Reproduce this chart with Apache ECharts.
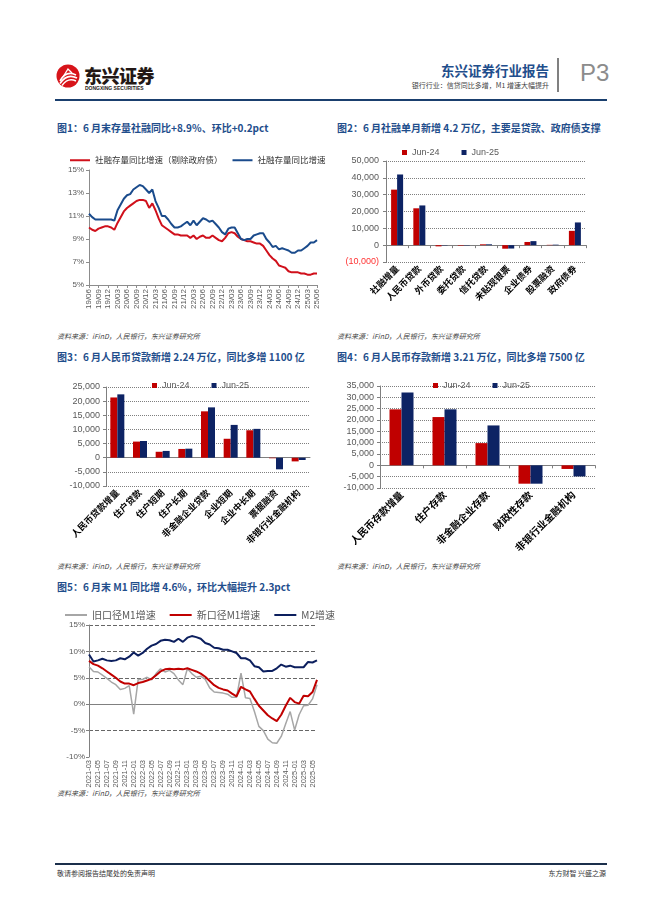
<!DOCTYPE html>
<html><head><meta charset="utf-8">
<script src="https://cdn.jsdelivr.net/npm/echarts@6/dist/echarts.min.js"></script>
<style>
html,body{margin:0;padding:0;background:#fff;}
#page{position:relative;width:662px;height:898px;overflow:hidden;font-family:"Noto Sans CJK SC","Liberation Sans",sans-serif;}
.abs{position:absolute;white-space:nowrap;}
.title{font-size:10px;font-weight:bold;color:#1f4e8c;line-height:14px;}
.src{font-size:7px;font-style:italic;color:#444;line-height:10px;}
.chart{position:absolute;left:0;top:0;width:662px;height:898px;}
</style></head>
<body><div id="page">
<svg class="abs" style="left:55px;top:62px" width="28" height="28" viewBox="0 0 28 28">
  <circle cx="13" cy="14" r="11.5" fill="#d7141a"/>
  <path d="M5 19 Q11 8 21 13" stroke="#fff" stroke-width="1.6" fill="none"/>
  <path d="M5 21.5 Q12 11 22 16" stroke="#fff" stroke-width="1.6" fill="none"/>
  <path d="M7 23.5 Q13 15 21 19" stroke="#fff" stroke-width="1.4" fill="none"/>
  <path d="M8 15 L13 7 L17 11" stroke="#fff" stroke-width="1.4" fill="none"/>
</svg>
<div class="abs" style="left:84px;top:62px;font-size:18px;font-weight:900;color:#231815;letter-spacing:-0.5px;">东兴证券</div>
<div class="abs" style="left:85px;top:85px;font-size:5px;font-weight:bold;color:#231815;font-family:'Liberation Sans';">DONGXING SECURITIES</div>
<div class="abs" style="right:113px;top:60px;font-size:13.5px;font-weight:bold;color:#1f4e8c;">东兴证券行业报告</div>
<div class="abs" style="right:113px;top:80px;font-size:7px;color:#444;">银行行业：信贷同比多增，M1 增速大幅提升</div>
<div class="abs" style="left:557px;top:58px;width:1.5px;height:34px;background:#808080;"></div>
<div class="abs" style="left:580px;top:59px;font-size:24px;color:#8c8c8c;font-family:'Liberation Sans';font-weight:300;">P3</div>
<div class="abs" style="left:55px;top:99px;width:552px;height:2px;background:#1a3f6e;"></div>

<div class="abs title" style="left:57px;top:121px;">图1：6 月末存量社融同比+8.9%、环比+0.2pct</div>
<div class="abs title" style="left:337px;top:121px;">图2：6 月社融单月新增 4.2 万亿，主要是贷款、政府债支撑</div>
<div class="abs src" style="left:57px;top:331px;">资料来源：iFinD，人民银行，东兴证券研究所</div>
<div class="abs src" style="left:337px;top:331px;">资料来源：iFinD，人民银行，东兴证券研究所</div>
<div class="abs title" style="left:57px;top:350px;">图3：6 月人民币贷款新增 2.24 万亿，同比多增 1100 亿</div>
<div class="abs title" style="left:337px;top:350px;">图4：6 月人民币存款新增 3.21 万亿，同比多增 7500 亿</div>
<div class="abs src" style="left:57px;top:561px;">资料来源：iFinD，人民银行，东兴证券研究所</div>
<div class="abs src" style="left:337px;top:561px;">资料来源：iFinD，人民银行，东兴证券研究所</div>
<div class="abs title" style="left:57px;top:580px;">图5：6 月末 M1 同比增 4.6%，环比大幅提升 2.3pct</div>
<div class="abs src" style="left:57px;top:788px;">资料来源：iFinD，人民银行，东兴证券研究所</div>

<div class="abs" style="left:55px;top:863px;width:552px;height:1.5px;background:#1b2f4b;"></div>
<div class="abs" style="left:57px;top:868px;font-size:7px;color:#333;">敬请参阅报告结尾处的免责声明</div>
<div class="abs" style="right:56px;top:868px;font-size:7px;color:#333;">东方财智 兴盛之源</div>

<div id="c1" class="chart"></div>
<div id="c2" class="chart"></div>
<div id="c3" class="chart"></div>
<div id="c4" class="chart"></div>
<div id="c5" class="chart"></div>
</div>
<script>
// ---------- Chart 1 data ----------
const c1Months = ['19/06','19/07','19/08','19/09','19/10','19/11','19/12','20/01','20/02','20/03','20/04','20/05','20/06','20/07','20/08','20/09','20/10','20/11','20/12','21/01','21/02','21/03','21/04','21/05','21/06','21/07','21/08','21/09','21/10','21/11','21/12','22/01','22/02','22/03','22/04','22/05','22/06','22/07','22/08','22/09','22/10','22/11','22/12','23/01','23/02','23/03','23/04','23/05','23/06','23/07','23/08','23/09','23/10','23/11','23/12','24/01','24/02','24/03','24/04','24/05','24/06','24/07','24/08','24/09','24/10','24/11','24/12','25/01','25/02','25/03','25/04','25/05','25/06'];
const c1ExGov = [10.0,9.8,9.7,9.9,10.0,10.1,10.1,
  10.0,9.8,10.4,10.9,11.4,11.7,11.9,12.1,12.3,12.4,12.4,12.3,
  11.7,12.1,11.5,10.8,10.2,10.0,9.8,9.6,9.4,9.4,9.3,9.3,
  9.3,9.1,9.3,9.0,9.2,9.3,9.1,9.1,9.3,9.1,8.9,8.8,
  9.1,9.5,9.6,9.5,9.2,9.0,8.9,8.8,8.8,8.7,8.6,8.6,
  8.4,8.0,7.6,7.3,7.1,6.7,6.6,6.5,6.2,6.1,6.1,6.1,
  6.0,6.0,5.9,5.9,6.0,6.0];
const c1Total = [11.2,10.9,10.7,10.7,10.7,10.7,10.7,
  10.7,10.6,11.5,12.0,12.5,12.8,12.9,13.3,13.5,13.7,13.6,13.3,
  13.0,13.3,12.3,11.7,11.0,11.0,10.7,10.3,10.0,10.0,10.1,10.3,
  10.5,10.2,10.6,10.2,10.5,10.8,10.7,10.5,10.6,10.3,10.0,9.6,
  9.4,9.9,10.0,10.0,9.5,9.0,8.9,9.0,9.0,9.3,9.4,9.5,
  9.5,9.0,8.7,8.3,8.4,8.1,8.2,8.1,8.0,7.8,7.8,8.0,
  8.0,8.2,8.4,8.7,8.7,8.9];
const c1Names = ['社融存量同比增速（剔除政府债）','社融存量同比增速'];

// ---------- Chart 2 data ----------
const c2Cats = ['社融增量','人民币贷款','外币贷款','委托贷款','信托贷款','未贴现银票','企业债券','股票融资','政府债券'];
const c2Jun24 = [32985,21900,-700,-300,500,-2100,1900,200,8500];
const c2Jun25 = [41993,23600,-200,-200,500,-2000,2400,300,13500];

// ---------- Chart 3 data ----------
const c3Cats = ['人民币贷款增量','住户贷款','住户短期','住户长期','非金融企业贷款','企业短期','企业中长期','票据融资','非银行业金融机构'];
const c3Jun24 = [21300,5700,2100,3100,16400,6700,9700,-200,-1300];
const c3Jun25 = [22400,5900,2400,3200,17800,11600,10200,-4100,-800];

// ---------- Chart 4 data ----------
const c4Cats = ['人民币存款增量','住户存款','非金融企业存款','财政性存款','非银行业金融机构'];
const c4Jun24 = [24700,21300,9800,-8100,-1600];
const c4Jun25 = [32100,24700,17600,-8100,-4900];

// ---------- Chart 5 data ----------
const c5Months = ['2021-03','2021-04','2021-05','2021-06','2021-07','2021-08','2021-09','2021-10','2021-11','2021-12',
 '2022-01','2022-02','2022-03','2022-04','2022-05','2022-06','2022-07','2022-08','2022-09','2022-10','2022-11','2022-12',
 '2023-01','2023-02','2023-03','2023-04','2023-05','2023-06','2023-07','2023-08','2023-09','2023-10','2023-11','2023-12',
 '2024-01','2024-02','2024-03','2024-04','2024-05','2024-06','2024-07','2024-08','2024-09','2024-10','2024-11','2024-12',
 '2025-01','2025-02','2025-03','2025-04','2025-05','2025-06'];
const c5OldM1 = [7.1,6.2,6.1,5.5,4.9,4.2,3.7,2.8,3.0,3.5,
 -1.9,4.7,4.7,5.1,4.6,5.8,6.7,6.1,6.4,5.8,4.6,3.7,
 6.7,5.8,5.1,5.3,4.7,3.1,2.3,2.2,2.1,1.9,1.3,1.3,
 5.9,1.2,1.1,-1.4,-4.2,-5.0,-6.6,-7.3,-7.4,-6.1,-3.7,-1.4,
 -4.9,-2.0,-0.3,-0.2,1.0,3.7];
const c5NewM1 = [8.2,7.6,7.3,6.8,6.2,5.6,5.0,4.3,3.9,3.9,
 3.6,4.0,4.2,4.5,4.8,5.5,6.2,6.6,6.7,6.6,6.7,6.6,
 6.8,6.5,6.2,5.8,5.2,4.4,3.6,3.1,2.8,2.6,2.0,1.5,
 3.3,2.8,2.4,1.0,-0.3,-1.2,-2.1,-2.7,-3.2,-2.0,-0.3,1.2,
 0.4,0.1,1.6,1.5,2.3,4.6];
const c5M2 = [9.4,8.1,8.3,8.6,8.3,8.2,8.3,8.7,8.5,9.0,
 9.8,9.2,9.7,10.5,11.1,11.4,12.0,12.2,12.1,11.8,12.4,11.8,
 12.6,12.9,12.7,12.4,11.6,11.3,10.7,10.6,10.3,10.3,10.0,9.7,
 8.7,8.7,8.3,7.2,7.0,6.2,6.3,6.3,6.8,7.5,7.1,7.3,
 7.0,7.0,7.0,8.0,7.9,8.3];
const c5Names = ['旧口径M1增速','新口径M1增速','M2增速'];

// ---------- styles ----------
const FONT = "'Liberation Sans','Noto Sans CJK SC',sans-serif";
const CJK = "'Noto Sans CJK SC',sans-serif";
const RED = '#C00000', NAVY = '#0D2364';
const AX = '#8c8c8c', LBL = '#595959';

function mk(id, opt){ const c = echarts.init(document.getElementById(id), null, {renderer:'canvas'}); opt.animation=false; opt.textStyle={fontFamily:FONT}; c.setOption(opt); }
function thou(v){ return Math.abs(v).toString().replace(/\B(?=(\d{3})+(?!\d))/g, ','); }

// Chart 1
mk('c1', {
  legend:{left:65, top:151, icon:'rect', itemWidth:20, itemHeight:2, itemGap:10,
    textStyle:{fontSize:8.5, color:'#333', fontFamily:CJK}, data:c1Names},
  grid:{left:89, top:170, width:228, height:115},
  xAxis:{type:'category', boundaryGap:false, data:c1Months,
    axisLine:{lineStyle:{color:AX}}, axisTick:{interval:2, length:3, lineStyle:{color:AX}},
    axisLabel:{interval:2, rotate:90, fontSize:8, color:LBL, margin:4}},
  yAxis:{type:'value', min:5, max:15, interval:2,
    axisLine:{show:true, lineStyle:{color:AX}}, axisTick:{show:true, length:3, lineStyle:{color:AX}},
    splitLine:{show:false}, axisLabel:{formatter:'{value}%', fontSize:8, color:LBL, margin:5}},
  series:[
    {name:c1Names[0], type:'line', data:c1ExGov, symbol:'none', lineStyle:{width:2, color:'#D0101B'}, itemStyle:{color:'#D0101B'}},
    {name:c1Names[1], type:'line', data:c1Total, symbol:'none', lineStyle:{width:2, color:'#1A4B8C'}, itemStyle:{color:'#1A4B8C'}}
  ]
});

// Chart 2
mk('c2', {
  legend:{left:397, top:143, icon:'rect', itemWidth:5, itemHeight:5, itemGap:22,
    textStyle:{fontSize:9, color:LBL}, data:['Jun-24','Jun-25']},
  grid:{left:386, top:161, width:200, height:101},
  xAxis:{type:'category', data:c2Cats,
    axisLine:{onZero:true, lineStyle:{color:'#7f7f7f'}}, axisTick:{show:true, length:3, lineStyle:{color:'#7f7f7f'}},
    axisLabel:{interval:0, rotate:45, fontSize:9, fontWeight:'bold', color:'#000', margin:5, fontFamily:CJK}},
  yAxis:{type:'value', min:-10000, max:50000, interval:10000,
    axisLine:{show:true, lineStyle:{color:'#7f7f7f'}}, axisTick:{show:true, length:3, lineStyle:{color:'#7f7f7f'}},
    splitLine:{lineStyle:{type:'dotted', color:'#7f7f7f'}},
    axisLabel:{fontSize:9, color:LBL, margin:7,
      formatter:function(v){ return v<0 ? '{n|('+thou(v)+')}' : thou(v); },
      rich:{n:{color:'#FF3333', fontSize:9}}}},
  series:[
    {name:'Jun-24', type:'bar', data:c2Jun24, barWidth:6, barGap:'0%', itemStyle:{color:RED}},
    {name:'Jun-25', type:'bar', data:c2Jun25, barWidth:6, barGap:'0%', itemStyle:{color:NAVY}}
  ]
});

// Chart 3
mk('c3', {
  legend:{left:147, top:376, icon:'rect', itemWidth:5, itemHeight:5, itemGap:22,
    textStyle:{fontSize:9, color:LBL}, data:['Jun-24','Jun-25']},
  grid:{left:106, top:387, width:204, height:99},
  xAxis:{type:'category', data:c3Cats,
    axisLine:{onZero:true, lineStyle:{color:'#7f7f7f'}}, axisTick:{show:false},
    axisLabel:{interval:0, rotate:45, fontSize:9, fontWeight:'bold', color:'#000', margin:5, fontFamily:CJK}},
  yAxis:{type:'value', min:-10000, max:25000, interval:5000,
    axisLine:{show:true, lineStyle:{color:'#7f7f7f'}}, axisTick:{show:true, length:3, lineStyle:{color:'#7f7f7f'}},
    splitLine:{lineStyle:{type:'dotted', color:'#7f7f7f'}},
    axisLabel:{fontSize:9, color:LBL, margin:6}},
  series:[
    {name:'Jun-24', type:'bar', data:c3Jun24, barWidth:7, barGap:'0%', itemStyle:{color:RED}},
    {name:'Jun-25', type:'bar', data:c3Jun25, barWidth:7, barGap:'0%', itemStyle:{color:NAVY}}
  ]
});

// Chart 4
mk('c4', {
  legend:{left:428, top:376, icon:'rect', itemWidth:5, itemHeight:5, itemGap:22,
    textStyle:{fontSize:9, color:LBL}, data:['Jun-24','Jun-25']},
  grid:{left:380, top:386, width:215, height:102},
  xAxis:{type:'category', data:c4Cats,
    axisLine:{onZero:true, lineStyle:{color:'#7f7f7f'}}, axisTick:{show:true, length:3, lineStyle:{color:'#7f7f7f'}},
    axisLabel:{interval:0, rotate:45, fontSize:10, fontWeight:'bold', color:'#000', margin:5, fontFamily:CJK}},
  yAxis:{type:'value', min:-10000, max:35000, interval:5000,
    axisLine:{show:true, lineStyle:{color:'#7f7f7f'}}, axisTick:{show:true, length:3, lineStyle:{color:'#7f7f7f'}},
    splitLine:{lineStyle:{type:'dotted', color:'#7f7f7f'}},
    axisLabel:{fontSize:9, color:LBL, margin:6}},
  series:[
    {name:'Jun-24', type:'bar', data:c4Jun24, barWidth:12, barGap:'0%', itemStyle:{color:RED}},
    {name:'Jun-25', type:'bar', data:c4Jun25, barWidth:12, barGap:'0%', itemStyle:{color:NAVY}}
  ]
});

// Chart 5
mk('c5', {
  legend:{left:60, top:605, icon:'rect', itemWidth:22, itemHeight:2, itemGap:14,
    textStyle:{fontSize:10, color:LBL, fontFamily:CJK}, data:c5Names},
  grid:{left:89, top:625, width:228, height:132},
  xAxis:{type:'category', boundaryGap:false, data:c5Months,
    axisLine:{onZero:true, lineStyle:{color:'#808080'}}, axisTick:{show:false},
    axisLabel:{interval:1, rotate:90, fontSize:7.5, color:LBL, margin:3}},
  yAxis:{type:'value', min:-10, max:15, interval:5,
    axisLine:{show:true, lineStyle:{color:'#808080'}}, axisTick:{show:true, length:3, lineStyle:{color:'#808080'}},
    splitLine:{lineStyle:{type:'dashed', color:['rgba(0,0,0,0)','#666','#666','#666','#666','#666']}},
    axisLabel:{formatter:'{value}%', fontSize:8, color:LBL, margin:4}},
  series:[
    {name:c5Names[0], type:'line', data:c5OldM1, symbol:'none', lineStyle:{width:1.5, color:'#A6A6A6'}, itemStyle:{color:'#A6A6A6'}},
    {name:c5Names[1], type:'line', data:c5NewM1, symbol:'none', lineStyle:{width:2, color:RED}, itemStyle:{color:RED}},
    {name:c5Names[2], type:'line', data:c5M2, symbol:'none', lineStyle:{width:2, color:'#0C1F5E'}, itemStyle:{color:'#0C1F5E'}}
  ]
});
</script>
</body></html>
